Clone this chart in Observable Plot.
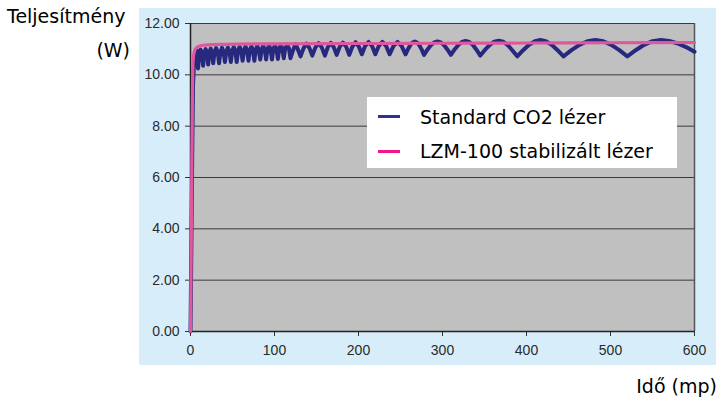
<!DOCTYPE html>
<html>
<head>
<meta charset="utf-8">
<script src="https://cdn.jsdelivr.net/npm/d3@7"></script>
<script src="https://cdn.jsdelivr.net/npm/@observablehq/plot@0.6"></script>
<style>
  html, body { margin: 0; padding: 0; background: #ffffff; }
  #wrap { position: relative; width: 724px; height: 405px; overflow: hidden; background: #ffffff; }
  #panel { position: absolute; left: 139px; top: 8px; width: 577px; height: 357px; background: #d7eefa; }
  #chart { position: absolute; left: 0; top: 0; }
  .title { position: absolute; font-family: "DejaVu Sans", Verdana, sans-serif; font-size: 19px; line-height: 19px; color: #000; white-space: nowrap; }
  #legend { position: absolute; left: 367px; top: 97px; width: 310px; height: 71px; background: #ffffff; }
  .lg-line { position: absolute; left: 11px; width: 22px; height: 3px; }
  .lg-text { position: absolute; left: 53px; font-family: "DejaVu Sans", Verdana, sans-serif; font-size: 19px; line-height: 19px; color: #000; white-space: nowrap; }
</style>
</head>
<body>
<div id="wrap">
  <div id="panel"></div>
  <div id="chart"></div>
  <div class="title" style="left:7px; top:7px;">Teljesítmény</div>
  <div class="title" style="right:594px; top:41px;">(W)</div>
  <div class="title" style="right:7px; top:377px;">Idő (mp)</div>
  <div id="legend">
    <div class="lg-line" style="top:18px; background:#2e3192;"></div>
    <div class="lg-text" style="top:11px;" id="lg1"></div>
    <div class="lg-line" style="top:53px; background:#f0168c;"></div>
    <div class="lg-text" style="top:45px;" id="lg2"></div>
  </div>
</div>
<script>
// Series names
const seriesNames = ["Standard CO2 lézer", "LZM-100 stabilizált lézer"];

// Axis ticks
const xTicks = [0, 100, 200, 300, 400, 500, 600];
const yTicks = [0, 2, 4, 6, 8, 10, 12];
const gridValues = [2, 4, 6, 8, 10, 12];

// LZM-100 stabilized laser (pink)
const pinkTime  = [0, 0.8, 1.6, 2.4, 3.2, 5, 8, 12, 20, 40, 100, 200, 300, 400, 500, 600];
const pinkPower = [0, 3, 6.5, 9.5, 10.6, 10.95, 11.08, 11.13, 11.17, 11.19, 11.21, 11.22, 11.23, 11.24, 11.25, 11.26];

// Standard CO2 laser (blue)
const blueTime = [
  0, 1, 2, 3, 4, 5, 6, 7.5, 9,
  10.4, 12, 13.6, 15,
  16.4, 18, 19.6, 21,
  22.4, 24, 25.6, 27,
  28.6, 30.5, 32.4, 34,
  35.6, 37.5, 39.4, 41,
  42.6, 44.5, 46.4, 48,
  49.6, 51.5, 53.4, 55,
  56.6, 58.5, 60.4, 62,
  63.6, 65.5, 67.4, 69,
  70.6, 72.5, 74.4, 76,
  77.6, 79.5, 81.4, 83,
  84.6, 86.5, 88.4, 90,
  91.6, 93.5, 95.4, 97,
  98.6, 100.5, 102.4, 104,
  105.6, 107.5, 109.4, 111,
  112.8, 115, 117.2, 119,
  122, 125, 128, 131,
  134.5, 138, 141.5, 145,
  148.75, 152.5, 156.25, 160,
  163.5, 167, 170.5, 174,
  177.75, 181.5, 185.25, 189,
  192.75, 196.5, 200.25, 204,
  208, 212, 216, 220,
  224.25, 228.5, 232.75, 237,
  241.75, 246.5, 251.25, 256,
  258.75, 261.5, 264.25, 267, 269.75, 272.5, 275.25, 278,
  282, 286, 290, 294, 298, 302, 306, 310,
  314.4, 318.8, 323.1, 327.5, 331.9, 336.3, 340.6, 345,
  350.5, 356, 361.5, 367, 372.5, 378, 383.5, 389,
  396, 403, 410, 416.5, 423, 430, 437, 444,
  453.5, 463, 472.5, 482, 491.5, 501, 510.5, 520,
  530, 540, 550, 560, 570, 580, 590, 600
];
const bluePower = [
  0, 3.2, 6.8, 9.6, 10.3, 10.7, 10.9, 10.95, 10.25,
  10.83, 10.98, 10.83, 10.35,
  10.85, 11.0, 10.85, 10.4,
  10.87, 11.02, 10.87, 10.45,
  10.89, 11.04, 10.89, 10.45,
  10.9, 11.05, 10.9, 10.5,
  10.91, 11.06, 10.91, 10.5,
  10.93, 11.08, 10.93, 10.5,
  10.94, 11.09, 10.94, 10.55,
  10.95, 11.1, 10.95, 10.55,
  10.96, 11.11, 10.96, 10.55,
  10.97, 11.12, 10.97, 10.6,
  10.98, 11.13, 10.98, 10.6,
  10.99, 11.14, 10.99, 10.6,
  11.0, 11.15, 11.0, 10.62,
  11.01, 11.16, 11.01, 10.65,
  11.03, 11.18, 11.03, 10.65,
  10.95, 11.2, 10.98, 10.72,
  11.03, 11.22, 11.05, 10.75,
  11.07, 11.24, 11.07, 10.75,
  11.08, 11.25, 11.08, 10.78,
  11.1, 11.26, 11.1, 10.78,
  11.1, 11.27, 11.11, 10.8,
  11.13, 11.28, 11.13, 10.8,
  11.13, 11.28, 11.13, 10.8,
  11.13, 11.28, 11.13, 10.8,
  10.99, 11.155, 11.26, 11.3, 11.26, 11.15, 10.98, 10.78,
  10.98, 11.15, 11.26, 11.3, 11.26, 11.15, 10.98, 10.78,
  10.99, 11.16, 11.28, 11.32, 11.28, 11.16, 10.97, 10.75,
  10.97, 11.16, 11.29, 11.33, 11.29, 11.15, 10.94, 10.72,
  10.96, 11.17, 11.31, 11.36, 11.31, 11.17, 10.96, 10.72,
  10.96, 11.17, 11.31, 11.36, 11.31, 11.17, 10.96, 10.72,
  10.96, 11.17, 11.31, 11.36, 11.32, 11.22, 11.08, 10.9
];

const blueData = blueTime.map((t, i) => ({t, p: bluePower[i]}));
const pinkData = pinkTime.map((t, i) => ({t, p: pinkPower[i]}));

document.getElementById("lg1").textContent = seriesNames[0];
document.getElementById("lg2").textContent = seriesNames[1];

const chart = Plot.plot({
  width: 724,
  height: 405,
  marginLeft: 190,
  marginRight: 30,
  marginTop: 23,
  marginBottom: 74,
  x: {domain: [0, 600]},
  y: {domain: [0, 12]},
  style: {background: "transparent", fontFamily: "'Liberation Sans', sans-serif", fontSize: "14px", color: "#2a2a2a", overflow: "visible"},
  marks: [
    Plot.frame({fill: "#c0c0c0", stroke: "#8a8a8a"}),
    Plot.ruleY(gridValues, {stroke: "#3a3a3a", strokeWidth: 1}),
    Plot.ruleX([600], {stroke: "#555", strokeWidth: 1.5}),
    Plot.axisY({ticks: yTicks, tickFormat: d => d.toFixed(2), tickSize: 5, tickPadding: 6, label: null, stroke: "#333"}),
    Plot.axisX({ticks: xTicks, tickSize: 5, tickPadding: 9, label: null, stroke: "#333"}),
    Plot.ruleY([0], {stroke: "#222", strokeWidth: 1.5}),
    Plot.ruleX([0], {stroke: "#222", strokeWidth: 1.5}),
    Plot.line(blueData, {x: "t", y: "p", stroke: "#27297f", strokeWidth: 4, strokeLinejoin: "round", curve: "linear"}),
    Plot.line(pinkData, {x: "t", y: "p", stroke: "#e0579f", strokeWidth: 3.2, curve: "monotone-x"})
  ]
});
document.getElementById("chart").appendChild(chart);
</script>
</body>
</html>
